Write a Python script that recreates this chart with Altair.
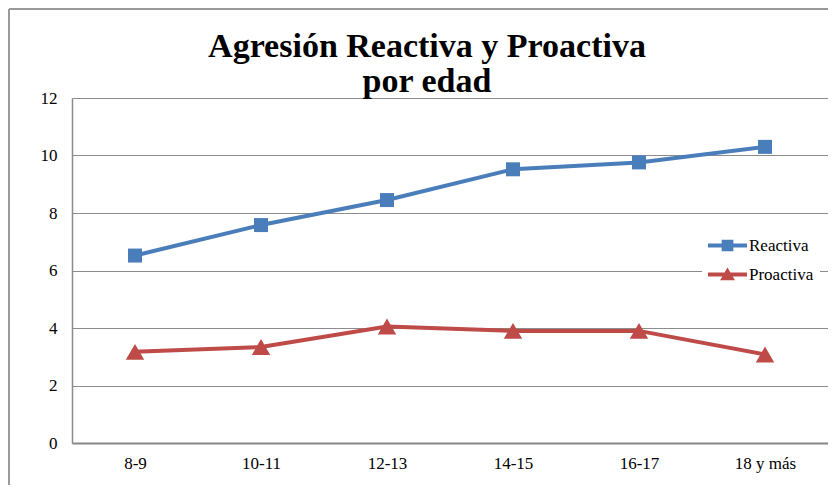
import altair as alt
import pandas as pd

edades = ["8-9", "10-11", "12-13", "14-15", "16-17", "18 y más"]
reactiva = [6.52, 7.58, 8.45, 9.52, 9.76, 10.3]
proactiva = [3.17, 3.34, 4.05, 3.9, 3.9, 3.08]
series = ["Reactiva", "Proactiva"]
colores = ["#4A7EBB", "#BE4B48"]
formas = ["square", "triangle-up"]
tamanos = [196, 340]
titulo = ["Agresión Reactiva y Proactiva", "por edad"]
y_ticks = [0, 2, 4, 6, 8, 10, 12]

# legend symbols: line + marker
sym_paths = [
    "M-1,-0.1H1V0.1H-1Z M-0.3,-0.3H0.3V0.3H-0.3Z",
    "M-1,-0.1H1V0.1H-1Z M0,-0.36L0.38,0.3H-0.38Z",
]

rows = []
for e, r, p in zip(edades, reactiva, proactiva):
    rows.append({"edad": e, "serie": series[0], "valor": r})
    rows.append({"edad": e, "serie": series[1], "valor": p})
df = pd.DataFrame(rows)

FONT = "Liberation Serif"
W, H = 756, 345

x_enc = alt.X("edad:N", sort=edades, scale=alt.Scale(type="point", padding=0.5),
              axis=alt.Axis(title=None, labelAngle=0, ticks=False, grid=False,
                            labelFont=FONT, labelFontSize=17, labelColor="black",
                            domainColor="#868686", domainWidth=2, labelPadding=12))
y_enc = alt.Y("valor:Q", scale=alt.Scale(domain=[0, 12], nice=False),
              axis=alt.Axis(title=None, values=y_ticks, ticks=False, grid=True,
                            labelFont=FONT, labelFontSize=17, labelColor="black",
                            gridColor="#8c8c8c", gridWidth=1.2, domainColor="#8c8c8c",
                            domainWidth=1.5, labelPadding=15))

base = alt.Chart(df)

layers = []
for s, c in zip(series, colores):
    layers.append(base.transform_filter(alt.datum.serie == s)
                  .mark_line(strokeWidth=4, color=c).encode(x=x_enc, y=y_enc))
for s, c, f, z in zip(series, colores, formas, tamanos):
    layers.append(base.transform_filter(alt.datum.serie == s)
                  .mark_point(shape=f, filled=True, size=z, opacity=1, color=c)
                  .encode(x=x_enc, y=y_enc))

leg = alt.Legend(title=None, orient="none", legendX=630, legendY=122,
                 fillColor="white", padding=6, symbolSize=1521,
                 symbolStrokeWidth=0, rowPadding=1,
                 labelFont=FONT, labelFontSize=17, labelColor="black",
                 labelOffset=2)

# legend source: the same points pushed outside the plot and clipped away
legend_layer = base.transform_calculate(fuera="-100").mark_point(
    filled=True, opacity=1, size=1521, strokeWidth=0, clip=True
).encode(
    x=x_enc,
    y=alt.Y("fuera:Q", scale=alt.Scale(domain=[0, 12], nice=False)),
    color=alt.Color("serie:N", scale=alt.Scale(domain=series, range=colores), legend=leg),
    shape=alt.Shape("serie:N", scale=alt.Scale(domain=series, range=sym_paths), legend=leg),
)

title_df = pd.DataFrame({"t": titulo, "i": [0, 1]})
title1 = alt.Chart(title_df).transform_filter(alt.datum.i == 0).mark_text(
    font=FONT, fontSize=34, fontWeight="bold", color="black", align="center", baseline="alphabetic"
).encode(text="t:N", x=alt.value(355), y=alt.value(-41))
title2 = alt.Chart(title_df).transform_filter(alt.datum.i == 1).mark_text(
    font=FONT, fontSize=34, fontWeight="bold", color="black", align="center", baseline="alphabetic"
).encode(text="t:N", x=alt.value(355), y=alt.value(-6))

# outer chart frame (left and top edges; the others lie outside the picture)
frame = alt.Chart(title_df).transform_filter(alt.datum.i == 0)
frame_left = frame.mark_rule(stroke="#9a9a9a", strokeWidth=2).encode(
    x=alt.value(-63), y=alt.value(-89), y2=alt.value(405))
frame_top = frame.mark_rule(stroke="#9a9a9a", strokeWidth=2).encode(
    x=alt.value(-63), x2=alt.value(760), y=alt.value(-89))

chart = alt.layer(frame_left, frame_top, *layers, legend_layer, title1, title2).properties(
    width=W, height=H,
    autosize=alt.AutoSizeParams(type="none"),
    padding={"left": 64, "top": 90, "right": 0, "bottom": 42},
    background="white",
).configure_view(strokeWidth=0)

chart.save("out.html", embed_options={"renderer": "svg", "actions": False})
